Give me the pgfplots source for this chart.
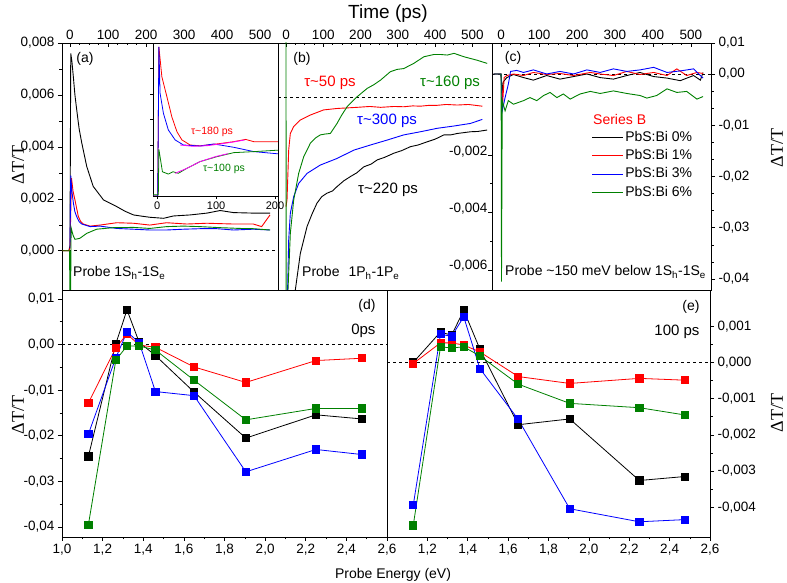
\documentclass[border=0pt]{standalone}
\usepackage{fontspec}
\setmainfont{Liberation Sans}
\newfontfamily\seriffont{Liberation Serif}
\usepackage{pgfplots}
\pgfplotsset{compat=1.18}
\definecolor{ogreen}{RGB}{0,128,0}
\definecolor{omag}{RGB}{255,0,255}
\newcommand{\fs}[1]{\fontsize{#1}{#1}\selectfont}
\pgfplotsset{
  base/.style={scale only axis, anchor=south west, tick align=outside,
    major tick length=4pt, minor tick length=2.5pt,
    every tick/.style={black, line width=0.6pt},
    axis line style={line width=0.8pt},
    ticklabel style={font=\fs{13.5}},
    scaled x ticks=false, scaled y ticks=false,
    every axis plot/.append style={line width=0.9pt},
  },
  top/.style={base, height=247pt, xtick pos=top, xticklabel pos=top, xtick align=inside,
    xtick={0,100,200,300,400,500}, xticklabels={0,100,200,300,400,500}, minor x tick num=3},
  bot/.style={base, height=247pt, xtick pos=bottom, xmin=1.0, xmax=2.6, minor x tick num=1,
    every axis plot/.append style={mark=square*, mark size=3.6pt, line width=0.8pt}},
}
\begin{document}
\begin{tikzpicture}[x=1pt,y=1pt]
\useasboundingbox (0,0) rectangle (787,583);

% ---------- panel (a)
\begin{axis}[top, at={(62pt,293pt)}, width=216pt, xmin=-21, xmax=547, ymin=-0.00151, ymax=0.008,
  ytick pos=left, ytick={0,0.002,0.004,0.006,0.008},
  yticklabels={{0,000},{0,002},{0,004},{0,006},{0,008}}, minor y tick num=1]
\addplot[black, dashed, line width=0.6pt, forget plot] coordinates {(-21,0) (547,0)};
\addplot[black] coordinates {(-20,0) (-3,0) (0,0.0002) (2,0.0076) (5,0.0073) (8.8,0.0067) (13,0.006) (17.5,0.00545) (24,0.0047) (31,0.00415) (44,0.00325) (61,0.00248) (88,0.00196) (123,0.0017) (145,0.00152) (167,0.00138) (190,0.00133) (210,0.00129) (246,0.00125) (272,0.00134) (316,0.00138) (360,0.00145) (395,0.00155) (430,0.00147) (482,0.00145) (526,0.00145)};
\addplot[red] coordinates {(-20,0) (-2,0) (0,0.0001) (4,0.0028) (8,0.0023) (13,0.00196) (18,0.0016) (22,0.00132) (28,0.00113) (35,0.00103) (53,0.00095) (79,0.00099) (123,0.00108) (167,0.00106) (210,0.00099) (254,0.00108) (307,0.00103) (360,0.00106) (430,0.00103) (482,0.00103) (504,0.00093) (526,0.00138)};
\addplot[blue] coordinates {(0,0.0001) (2,0.0029) (5,0.0023) (9,0.00183) (13,0.0015) (17.5,0.00132) (24,0.00112) (31,0.00103) (53,0.00093) (79,0.00095) (123,0.00086) (167,0.00083) (210,0.0008) (254,0.0008) (298,0.00083) (342,0.00085) (386,0.00085) (430,0.0008) (482,0.00083) (526,0.0008)};
\addplot[ogreen] coordinates {(-20,0) (-1,0) (0,-0.003) (1,-0.003) (3,0.00089) (8,0.0006) (13,0.00044) (26,0.00048) (44,0.00067) (70,0.00083) (114,0.00089) (167,0.0009) (210,0.00086) (254,0.00093) (298,0.00095) (342,0.00093) (395,0.00089) (447,0.00086) (482,0.00085) (526,0.0008)};
\end{axis}

% ---------- inset
\begin{axis}[base, at={(153pt,387pt)}, width=125pt, height=153pt, xmin=-7, xmax=205, ymin=0, ymax=6,
  xtick={0,100,200}, xticklabels={0,100,200}, ytick={1,2,3,4,5}, yticklabels={},
  xtick pos=bottom, ytick pos=left, major tick length=3pt,
  ticklabel style={font=\fs{11}}, xticklabel style={yshift=1pt},
  axis background/.style={fill=white}, every axis plot/.append style={line width=0.8pt}]
\addplot[red] coordinates {(-7,0) (1,0) (3,5.85) (8,4.68) (16.5,3.9) (25,3.1) (33.6,2.52) (42,2.2) (56,2.0) (73,1.97) (101,2.04) (130,2.13) (150,2.22) (164,2.13) (207,2.13)};
\addplot[blue] coordinates {(-7,0) (1,0) (3,5.85) (5,4.03) (10.7,3.24) (19,2.59) (30.5,2.2) (44.6,2.0) (73,1.96) (96,2.04) (130,1.91) (164,1.74) (207,1.65)};
\addplot[ogreen] coordinates {(-7,0.05) (2,0.05) (3,1.83) (9,0.95) (19,0.86) (27,0.95) (36,0.89) (50,1.08) (73,1.35) (101,1.54) (130,1.7) (164,1.74) (207,1.8)};
\addplot[omag] coordinates {(39,2.0) (60,1.95) (84,1.97) (110,2.05) (130,2.12) (149,2.2)};
\addplot[omag] coordinates {(30.5,0.89) (50,1.08) (73,1.35) (100,1.55) (120,1.66)};
\end{axis}

% ---------- panel (b)
\begin{axis}[top, at={(278pt,293pt)}, width=214pt, xmin=-21.5, xmax=553, ymin=-0.0067, ymax=0.0019,
  ytick pos=right, yticklabel pos=right, ytick align=inside,
  ytick={-0.006,-0.004,-0.002}, yticklabels={{-0,006},{-0,004},{-0,002}}, minor y tick num=1,
  yticklabel style={anchor=base east, xshift=-1pt}]
\addplot[black, dashed, line width=0.6pt, forget plot] coordinates {(-21.5,0) (553,0)};
\addplot[black] coordinates {(20,-0.0075) (25,-0.0067) (38.5,-0.00542) (56.5,-0.00449) (70,-0.00405) (83,-0.00368) (96,-0.00345) (110,-0.00333) (125,-0.00325) (137,-0.0031) (155,-0.0029) (173,-0.00275) (190,-0.00262) (209,-0.00241) (228,-0.00232) (245,-0.00217) (265,-0.00208) (289,-0.00194) (310,-0.00185) (334,-0.00171) (355,-0.00165) (379,-0.00154) (400,-0.00145) (424,-0.0013) (442,-0.0013) (460,-0.00125) (478,-0.00122) (496,-0.00119) (515,-0.00118) (540,-0.00113)};
\addplot[red] coordinates {(0,-0.0038) (1,-0.0037) (2.7,-0.00357) (7.2,-0.00183) (11.6,-0.00125) (20.6,-0.00101) (38.5,-0.00078) (65,-0.00061) (101,-0.00043) (137,-0.00038) (191,-0.00034) (225,-0.00031) (254,-0.00034) (290,-0.00031) (316,-0.00032) (340,-0.00029) (361,-0.0003) (385,-0.00027) (406,-0.00027) (430,-0.00024) (460,-0.00026) (490,-0.00024) (527,-0.0003)};
\addplot[blue] coordinates {(2,-0.008) (7.2,-0.00496) (11.6,-0.00403) (20.6,-0.00345) (34,-0.00299) (56.5,-0.00264) (92,-0.00235) (137,-0.00212) (182,-0.00183) (227,-0.00165) (271.5,-0.00148) (316,-0.0013) (361,-0.00119) (406,-0.00107) (451,-0.00099) (495.5,-0.0009) (527,-0.00076)};
\addplot[ogreen] coordinates {(0,0.003) (0.3,-0.008) (5,-0.0068) (11.6,-0.00473) (20.6,-0.00357) (34,-0.00264) (47.5,-0.00206) (65.4,-0.00159) (80,-0.0014) (92,-0.0013) (105,-0.00127) (119,-0.00125) (137,-0.0009) (150,-0.0006) (164,-0.00032) (191,0.00003) (218,0.00032) (236,0.00045) (254,0.00061) (280,0.0009) (298,0.00098) (316,0.00101) (343,0.00119) (370,0.00142) (397,0.0015) (415,0.0015) (433,0.00148) (451,0.00154) (478,0.00142) (513,0.0013) (540,0.00119)};
\end{axis}

% ---------- panel (c)
\begin{axis}[top, at={(492pt,293pt)}, width=219pt, xmin=-24, xmax=553, ymin=-0.04215, ymax=0.00605,
  ytick pos=right, yticklabel pos=right,
  ytick={-0.04,-0.03,-0.02,-0.01,0}, yticklabels={{-0,04},{-0,03},{-0,02},{-0,01},{0,00}},
  extra y ticks={0.00605}, extra y tick labels={0{,}01}, minor y tick num=2,
  legend style={at={(rel axis cs:0.455,0.652)}, anchor=north west, draw=none, fill=none,
    inner sep=0pt, row sep=1.8pt, font=\fs{14},
    nodes={inner sep=1.5pt, text height=10.5pt, text depth=3pt}},
  legend cell align=left,
  legend image code/.code={\draw[#1, line width=0.9pt] (0pt,0pt) -- (31pt,0pt);}]
\addplot[black, dashed, line width=0.6pt, forget plot] coordinates {(-24,0) (553,0)};
\addplot[black] coordinates {(-20,0) (-2,0) (0,-0.0005) (3,-0.0033) (6,-0.0015) (15,-0.0007) (32.5,-0.0001) (59,-0.0007) (85,-0.0012) (120,-0.0003) (155,-0.001) (191,-0.0005) (226,0) (261,-0.0007) (296,-0.001) (331,-0.0003) (366,0.0003) (402,-0.0005) (437,-0.0008) (472,-0.0013) (507,-0.0003) (525,-0.0012) (532,0.0003)};
\addplot[red] coordinates {(-20,0) (-2,0) (0,0) (2,-0.0026) (4,-0.0059) (8,-0.0007) (15,-0.0003) (32.5,0) (59,-0.0003) (85,0.0003) (120,-0.0001) (155,0.0001) (191,-0.0003) (235,0.0003) (261,0) (296,-0.0003) (331,0.0005) (366,-0.0001) (402,0.0003) (437,-0.0003) (463,0.001) (489,-0.0003) (516,0.0003) (532,0.0001)};
\addplot[blue] coordinates {(-20,0) (-2,0) (0,0) (3,-0.0072) (10.5,-0.0046) (19,-0.002) (25,0.0005) (41,0.0007) (59,0.0003) (85,0.0008) (120,0) (155,0.0005) (191,0) (226,0.0008) (261,0.0003) (296,0.001) (331,0.0005) (366,0.0008) (402,0.0013) (437,0.0003) (472,0.0006) (507,0.001) (532,-0.0008)};
\addplot[ogreen] coordinates {(-20,0) (-1,0) (0,0) (1,-0.0405) (3,-0.0052) (10.5,-0.0072) (19,-0.0052) (32.5,-0.0059) (59,-0.0052) (76,-0.0046) (94,-0.0052) (112,-0.0042) (129,-0.0036) (147,-0.0046) (164,-0.0039) (182,-0.0049) (208,-0.0039) (235,-0.0034) (261,-0.0038) (296,-0.0033) (331,-0.0038) (366,-0.0042) (384,-0.0047) (410,-0.0042) (437,-0.0029) (463,-0.0036) (489,-0.0034) (516,-0.0049) (532,-0.0044)};
\legend{PbS:Bi 0\%, PbS:Bi 1\%, PbS:Bi 3\%, PbS:Bi 6\%}
\end{axis}

% ---------- panel (d)
\begin{axis}[bot, at={(62pt,46pt)}, width=325pt, ymin=-0.04219, ymax=0.01197,
  xtick={1.0,1.2,1.4,1.6,1.8,2.0,2.2,2.4,2.6}, xticklabels={{1,0},{1,2},{1,4},{1,6},{1,8},{2,0},{2,2},{2,4},{2,6}},
  ytick pos=left, ytick={-0.04,-0.03,-0.02,-0.01,0,0.01},
  yticklabels={{-0,04},{-0,03},{-0,02},{-0,01},{0,00},{0,01}}, minor y tick num=1]
\addplot[black, dashed, line width=0.6pt, mark=none, forget plot] coordinates {(1.0,0) (2.6,0)};
\addplot[black] coordinates {(1.13,-0.0245) (1.265,0.0002) (1.32,0.0076) (1.38,0.0005) (1.46,-0.0024) (1.65,-0.0104) (1.905,-0.0205) (2.25,-0.0154) (2.475,-0.0163)};
\addplot[red] coordinates {(1.13,-0.0128) (1.265,-0.0007) (1.32,0.0023) (1.38,-0.0001) (1.46,-0.0006) (1.65,-0.0049) (1.905,-0.0083) (2.25,-0.0035) (2.475,-0.003)};
\addplot[blue] coordinates {(1.13,-0.0196) (1.265,-0.0029) (1.32,0.0028) (1.38,0.0004) (1.46,-0.0103) (1.65,-0.0112) (1.905,-0.0279) (2.25,-0.023) (2.475,-0.0241)};
\addplot[ogreen] coordinates {(1.13,-0.0395) (1.265,-0.0034) (1.32,-0.0003) (1.38,-0.0003) (1.46,-0.0012) (1.65,-0.0078) (1.905,-0.0165) (2.25,-0.014) (2.475,-0.014)};
\end{axis}

% ---------- panel (e)
\begin{axis}[bot, at={(387pt,46pt)}, width=323pt, ymin=-0.00482, ymax=0.002,
  xtick={1.2,1.4,1.6,1.8,2.0,2.2,2.4,2.6}, xticklabels={{1,2},{1,4},{1,6},{1,8},{2,0},{2,2},{2,4},{2,6}},
  ytick pos=right, yticklabel pos=right, ytick={-0.004,-0.003,-0.002,-0.001,0,0.001},
  yticklabels={{-0,004},{-0,003},{-0,002},{-0,001},{0,000},{0,001}}, minor y tick num=1]
\addplot[black, dashed, line width=0.6pt, mark=none, forget plot] coordinates {(1.0,0) (2.6,0)};
\addplot[black] coordinates {(1.13,0) (1.265,0.00084) (1.32,0.00075) (1.38,0.00144) (1.46,0.00037) (1.65,-0.00172) (1.905,-0.00156) (2.25,-0.00326) (2.475,-0.00315)};
\addplot[red] coordinates {(1.13,-0.00003) (1.265,0.00054) (1.32,0.00054) (1.38,0.00048) (1.46,0.00029) (1.65,-0.00039) (1.905,-0.00058) (2.25,-0.00044) (2.475,-0.00049)};
\addplot[blue] coordinates {(1.13,-0.00394) (1.265,0.00078) (1.32,0.00072) (1.38,0.00126) (1.46,-0.00017) (1.65,-0.00157) (1.905,-0.00404) (2.25,-0.0044) (2.475,-0.00434)};
\addplot[ogreen] coordinates {(1.13,-0.0045) (1.265,0.00043) (1.32,0.0004) (1.38,0.00043) (1.46,0.00018) (1.65,-0.0006) (1.905,-0.00113) (2.25,-0.00125) (2.475,-0.00145)};
\end{axis}

% ---------- labels
\node[font=\fs{19}] at (388,569) {Time (ps)};
\node[font=\fs{14}] at (393,8) {Probe Energy (eV)};
\node[font=\seriffont\fs{18}, rotate=90] at (18,418) {ΔT/T};
\node[font=\seriffont\fs{18}, rotate=90] at (18,168) {ΔT/T};
\node[font=\seriffont\fs{18}, rotate=90] at (777,435) {ΔT/T};
\node[font=\seriffont\fs{18}, rotate=90] at (777,170) {ΔT/T};
\node[font=\fs{14}] at (85,524) {(a)};
\node[font=\fs{14}] at (302,524) {(b)};
\node[font=\fs{14}] at (513,525) {(c)};
\node[font=\fs{14}, anchor=east] at (379,277) {(d)};
\node[font=\fs{15}, anchor=east] at (379,252) {0ps};
\node[font=\fs{14}, anchor=east] at (703,276) {(e)};
\node[font=\fs{15}, anchor=east] at (703,251) {100 ps};
\node[font=\fs{14}, anchor=west, inner sep=0pt] at (73,310) {Probe 1S\textsubscript{h}-1S\textsubscript{e}};
\node[font=\fs{14}, anchor=west, inner sep=0pt] at (302,310) {Probe\hspace{9pt}1P\textsubscript{h}-1P\textsubscript{e}};
\node[font=\fs{14}, anchor=west, inner sep=0pt] at (505,311) {Probe \textasciitilde150 meV below 1S\textsubscript{h}-1S\textsubscript{e}};
\node[font=\fs{15}, text=red] at (330,500) {τ\textasciitilde50 ps};
\node[font=\fs{15}, text=ogreen] at (450,500) {τ\textasciitilde160 ps};
\node[font=\fs{15}, text=blue] at (387,462) {τ\textasciitilde300 ps};
\node[font=\fs{15}, text=black] at (388,393) {τ\textasciitilde220 ps};
\node[font=\fs{10.5}, text=red] at (212,451) {τ\textasciitilde180 ps};
\node[font=\fs{10.5}, text=ogreen] at (224,414) {τ\textasciitilde100 ps};
\node[font=\fs{14}, text=red, anchor=west, inner sep=0pt] at (593,463) {Series B};
\end{tikzpicture}
\end{document}
